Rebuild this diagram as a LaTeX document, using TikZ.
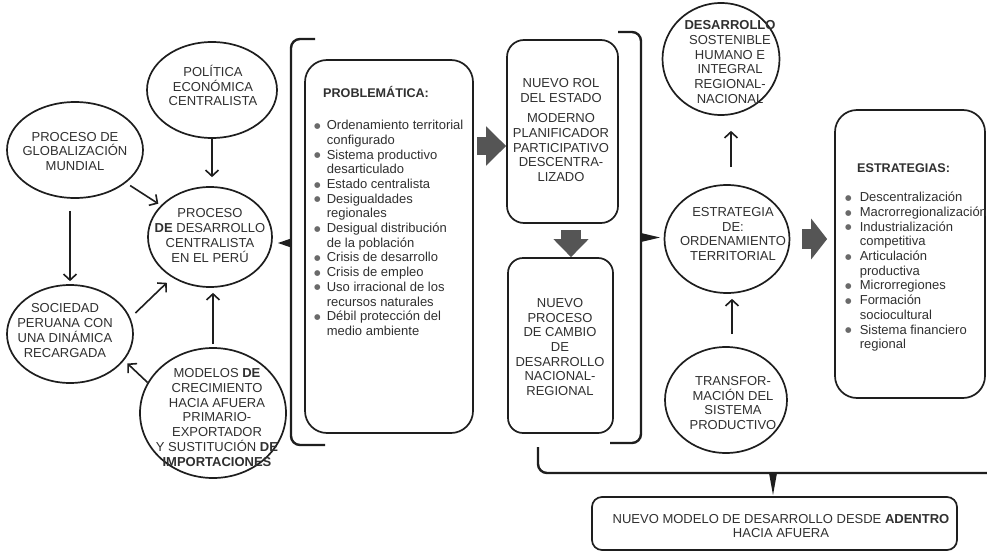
\documentclass[tikz,border=0pt]{standalone}
\usepackage{fontspec}
\setmainfont{Liberation Sans}
\newfontfamily\dotfont{DejaVu Sans}
\usetikzlibrary{shapes.geometric,arrows.meta,calc}
\definecolor{ink}{HTML}{1E1E1E}
\definecolor{txt}{HTML}{303030}
\definecolor{dotgray}{HTML}{6A6A6A}
\definecolor{blockgray}{HTML}{555555}
% bullet and continuation indent for the list panels
\newcommand\bul[1][8pt]{\makebox[#1][l]{\textcolor{dotgray}{\raisebox{1.4pt}{\dotfont\fontsize{7.5}{8}\selectfont ●}}}}
\newcommand\cont[1][8pt]{\hspace*{#1}}
\begin{document}
\begin{tikzpicture}[x=1pt,y=-1pt,
  every node/.style={font=\fontsize{13}{14.7}\selectfont, text=txt, inner sep=0pt},
  oval/.style={ellipse, draw=ink, line width=1.7pt},
  txtc/.style={align=center},
  txtl/.style={align=left, anchor=north west},
  panel/.style={rectangle, draw=ink, line width=1.7pt},
  arr/.style={draw=ink, line width=1.6pt, -{Straight Barb[length=6pt,width=13pt]}},
  bracket/.style={draw=ink, line width=2.4pt, rounded corners=9pt},
  blockarrow/.style n args={3}{draw=blockgray, line width=#1, -{Triangle[length=#2,width=#3]}}
]
\useasboundingbox (0,0) rectangle (987,551);
\fill[white] (0,0) rectangle (987,551);

% ---------- rounded panels ----------
\node[panel, rounded corners=22pt, minimum width=168pt, minimum height=373pt] (prob) at (389,246.5) {};
\node[panel, rounded corners=17pt, minimum width=111pt, minimum height=183pt] (rol) at (562.5,131.5) {};
\node[panel, rounded corners=15pt, minimum width=105pt, minimum height=175pt] (nuevo) at (560.5,345.5) {};
\node[panel, rounded corners=22pt, minimum width=150pt, minimum height=288pt] (strat) at (910,254) {};
\node[panel, rounded corners=10pt, minimum width=365pt, minimum height=53pt] (model) at (774.5,523.5) {};

% ---------- ovals ----------
\node[oval, minimum width=130pt, minimum height=96pt]  (pol)  at (212,90)  {};
\node[oval, minimum width=136pt, minimum height=96pt]  (glob) at (75,150)  {};
\node[oval, minimum width=124pt, minimum height=100pt] (proc) at (210,237) {};
\node[oval, minimum width=126pt, minimum height=98pt]  (soc)  at (70,334)  {};
\node[oval, minimum width=146pt, minimum height=130pt] (mod)  at (213,413) {};
\node[oval, minimum width=117pt, minimum height=112pt] (des)  at (721,59)  {};
\node[oval, minimum width=125pt, minimum height=108pt] (ord)  at (727,239) {};
\node[oval, minimum width=122pt, minimum height=106pt] (tra)  at (726,400) {};

% ---------- oval texts ----------
\node[txtc] (polT)  at (213,85.5) {POLÍTICA\\ECONÓMICA\\CENTRALISTA};
\node[txtc] (globT) at (75,151.5) {PROCESO DE\\GLOBALIZACIÓN\\MUNDIAL};
\node[txtc] (procT) at (210,235.5) {PROCESO\\\textbf{DE} DESARROLLO\\CENTRALISTA\\EN EL PERÚ};
\node[txtc] (socT)  at (65,330.5) {SOCIEDAD\\PERUANA CON\\UNA DINÁMICA\\RECARGADA};
\node[txtc] (modT)  at (217,417.5) {MODELOS \textbf{DE}\\CRECIMIENTO\\HACIA AFUERA\\PRIMARIO-\\EXPORTADOR\\Y SUSTITUCIÓN \textbf{DE}\\\textbf{IMPORTACIONES}};
\node[txtc] (desT)  at (730,62) {\textbf{DESARROLLO}\\SOSTENIBLE\\HUMANO E\\INTEGRAL\\REGIONAL-\\NACIONAL};
\node[txtc] (ordT)  at (733,234) {ESTRATEGIA\\DE:\\ORDENAMIENTO\\TERRITORIAL};
\node[txtc] (traT)  at (733,403) {TRANSFOR-\\MACIÓN DEL\\SISTEMA\\PRODUCTIVO};

% ---------- panel texts ----------
\node[txtc] (rolT) at (561,130) {NUEVO ROL\\DEL ESTADO\\[6pt]MODERNO\\PLANIFICADOR\\PARTICIPATIVO\\DESCENTRA-\\LIZADO};
\node[txtc] (nuevoT) at (560,347) {NUEVO\\PROCESO\\DE CAMBIO\\DE\\DESARROLLO\\NACIONAL-\\REGIONAL};
\node[txtc] (modelT) at (781,526) {NUEVO MODELO DE DESARROLLO DESDE \textbf{ADENTRO}\\HACIA AFUERA};

\node[anchor=west, font=\fontsize{12.6}{14.7}\selectfont\bfseries] (probH) at (323,92) {PROBLEMÁTICA:};
\node[txtl] (probL) at (314,120) {%
\bul[9pt] Ordenamiento territorial\\
\cont[9pt] configurado\\
\bul[9pt] Sistema productivo\\
\cont[9pt] desarticulado\\
\bul[9pt] Estado centralista\\
\bul[9pt] Desigualdades\\
\cont[9pt] regionales\\
\bul[9pt] Desigual distribución\\
\cont[9pt] de la población\\
\bul[9pt] Crisis de desarrollo\\
\bul[9pt] Crisis de empleo\\
\bul[9pt] Uso irracional de los\\
\cont[9pt] recursos naturales\\
\bul[9pt] Débil protección del\\
\cont[9pt] medio ambiente};

\node[anchor=west, font=\fontsize{12.6}{14.7}\selectfont\bfseries] (stratH) at (857,168) {ESTRATEGIAS:};
\node[txtl] (stratL) at (845,192) {%
\bul[11pt] Descentralización\\
\bul[11pt] Macrorregionalización\\
\bul[11pt] Industrialización\\
\cont[11pt] competitiva\\
\bul[11pt] Articulación\\
\cont[11pt] productiva\\
\bul[11pt] Microrregiones\\
\bul[11pt] Formación\\
\cont[11pt] sociocultural\\
\bul[11pt] Sistema financiero\\
\cont[11pt] regional};

% ---------- thin connectors ----------
\draw[arr, shorten >=9pt] (pol.south) -- (pol.south |- proc.north);
\draw[arr, shorten <=5pt, shorten >=3pt] (glob) -- (proc);
\draw[arr, shorten <=12pt, shorten >=3pt] (glob.south -| soc.north) -- (soc.north);
\draw[arr, shorten <=7pt, shorten >=7.5pt] (soc.15) -- (proc.227);
\draw[arr, shorten <=3pt, shorten >=5pt] (mod.north) -- (mod.north |- proc.south);
\draw[arr, shorten >=4.5pt] (mod.155) -- (soc.334);

\coordinate (ordtop) at ([xshift=4pt]ord.north);
\coordinate (tratop) at ([xshift=6pt]tra.north);
\draw[arr, shorten <=17pt, shorten >=15pt] (ordtop) -- (ordtop |- des.south);
\draw[arr, shorten <=12pt, shorten >=5pt] (tratop) -- (tratop |- ord.south);

% ---------- block arrows ----------
\coordinate (pa) at (477,146);
\draw[blockarrow={18pt}{20pt}{38pt}] (pa) -- (pa -| rol.west);
\coordinate (pb) at (571,230);
\draw[blockarrow={20pt}{18pt}{34pt}] (pb) -- (pb |- nuevo.north);
\draw[blockarrow={20pt}{16pt}{40pt}, shorten <=12pt, shorten >=7pt] (ord.east) -- (ord.east -| strat.west);

% ---------- brackets with their pointers ----------
\draw[bracket] (315,39) -- (291,39) -- (291,445) -- (325,445);
\fill[ink] (291,238.5) -- (278,243) -- (291,247.5) -- cycle;
\draw[bracket] (618,32) -- (641,32) -- (641,443) -- (610,443);
\fill[ink] (641,233) -- (660,237.5) -- (641,242) -- cycle;
\draw[bracket] (538,447) -- (538,473) -- (987,473);
\fill[ink] (769,473) -- (773,495) -- (777,473) -- cycle;
\end{tikzpicture}
\end{document}
